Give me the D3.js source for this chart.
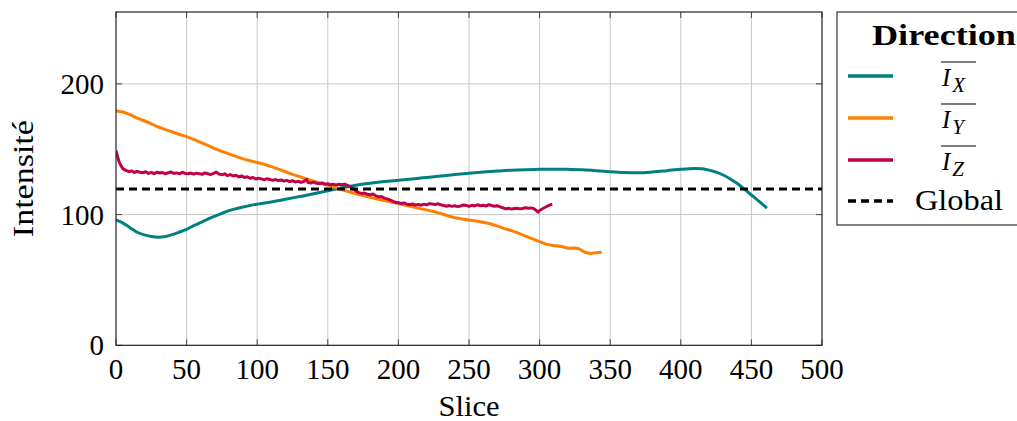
<!DOCTYPE html>
<html><head><meta charset="utf-8">
<script src="https://cdn.jsdelivr.net/npm/d3@7"></script>
<style>
html,body{margin:0;padding:0;background:#fff;}
</style></head>
<body><svg id="chart" width="1017" height="421"></svg>
<script>
const xTicks = [0,50,100,150,200,250,300,350,400,450,500];
const yTicks = [0,100,200];
const globalValue = 119.5;

const sliceX = [0,5,10,15,20,25,30,35,40,45,50,55,60,65,70,75,80,85,90,95,100,110,120,130,140,150,160,170,180,190,200,210,220,230,240,250,260,270,280,290,300,310,320,330,340,350,360,370,380,390,400,410,415,420,425,430,435,440,445,450,455,461];
const valX = [95.9,93.5,90,86.5,84.5,83.3,82.7,83.3,84.8,86.7,88.7,91.5,94,96.5,98.8,101,103,104.5,105.8,107,108,109.7,111.7,113.8,115.9,118.3,120.6,122.5,124,125.3,126.3,127.3,128.4,129.5,130.6,131.6,132.5,133.3,134,134.4,134.6,134.7,134.6,134.4,133.6,132.8,132.2,132,132.6,133.6,134.7,135.3,135,134,132.5,130.3,127.3,123.8,119.5,115,110.5,105];

const sliceY = [0,5,10,15,20,25,30,35,40,45,50,55,60,65,70,75,80,85,90,95,100,105,110,115,120,125,130,135,140,145,150,155,160,165,170,175,180,185,190,195,200,205,210,215,220,225,230,235,240,245,250,255,260,265,270,275,280,285,290,295,300,305,310,315,320,325,328,332,336,340,344];
const valY = [179.3,178.5,176.5,173.8,171.8,169.5,167,165,163.2,161.3,159.6,157.5,155.3,153,150.5,148.4,146.5,144.5,142.6,141.2,139.8,138.5,136.7,134.8,132.8,130.8,129,127.2,125.5,124,122.5,120.8,119,117.5,115.8,114.6,113.2,111.9,110.8,109.7,108.5,107.2,106,104.7,103.6,102.4,100.8,99.1,97.6,96.6,95.8,95.1,94.2,93,91.3,89.3,87.8,85.8,83.6,81.4,79.3,77.2,76.3,75.8,74.3,74.4,73.8,71.2,70.2,70.9,71.2];

const sliceZ = [0,1,2,3,4,5,7,9,11,13,15,17,19,21,23,25,27,29,31,33,35,37,39,41,43,45,47,49,51,53,55,57,59,61,63,65,67,69,71,73,75,77,79,81,83,85,87,89,91,93,95,97,99,101,103,105,107,109,111,113,115,117,119,121,123,125,127,129,131,133,135,136,138,140,142,144,146,148,150,152,154,156,158,160,162,164,166,168,170,172,174,176,178,180,182,184,186,188,190,192,194,196,198,200,202,204,206,208,210,212,214,216,218,220,222,224,226,228,230,232,234,236,238,240,242,244,246,248,250,252,254,256,258,260,262,264,266,268,270,272,274,276,278,280,282,284,286,288,290,292,294,296,298,299,300,302,304,306,308,309];
const valZ = [148.9,145,141,138.5,136.5,135,133.8,132.8,133.5,132.2,133,132.4,132,132.8,131.5,132.3,131.3,132.4,131.8,132.2,131.2,132,132.6,131.5,131.9,131.2,132.4,131.5,131.2,131.8,130.9,131.7,131.2,130.8,131.9,131.3,130.6,131.5,132.5,131,130.4,131.2,129.8,130.6,129.5,130.1,128.8,129.6,128.4,128.9,127.8,128.4,127.2,127.9,127.3,126.6,127.4,126.9,126.2,126.8,126.1,126.5,125.6,126.2,125.3,125.9,125,125.4,124.6,125.3,127,124.5,124.2,124.8,123.9,123.6,124.2,123.3,123.6,122.8,123.3,122.6,123.2,122.8,123.3,122.4,121.2,119.5,118,116.8,116.2,116.5,115.6,115.2,115.7,114.4,113.5,113.9,112.6,112,111.3,110.2,109.4,109.1,108.5,108.9,108,107.6,108.1,107.3,107.8,107.2,108,107.4,108.4,108.1,107.6,108.3,107.5,107,106.4,106.9,106.3,106.7,106.1,106.5,107.4,107,106.3,107.1,106.6,107.5,106.8,107.2,106.5,107.6,107,106.4,106.8,105.9,105.2,104.4,104.8,104.2,104.6,104.9,104.4,104.7,105.3,104.8,105.1,104.5,102.8,101.8,103.2,104.5,105.6,106.8,107.6,107.9];

const seriesNames = ["X","Y","Z"];
const seriesColors = ["#008080","#ff8000","#c1004a"];
const FONT = "'Liberation Serif', 'DejaVu Serif', serif";

const svg = d3.select("#chart").style("font-family", FONT);
const L = 116, R = 822, T = 12, B = 345.3;
const x = d3.scaleLinear().domain([0,500]).range([L,R]);
const y = d3.scaleLinear().domain([0,255]).range([B,T]);

// grid
const g = svg.append("g");
g.selectAll(".gx").data(xTicks.slice(1,-1)).join("line")
  .attr("x1",d=>x(d)).attr("x2",d=>x(d)).attr("y1",T).attr("y2",B)
  .attr("stroke","#c8c8c8").attr("stroke-width",1);
g.selectAll(".gy").data(yTicks.slice(1)).join("line")
  .attr("x1",L).attr("x2",R).attr("y1",d=>y(d)).attr("y2",d=>y(d))
  .attr("stroke","#c8c8c8").attr("stroke-width",1);

// ticks inside
const tl = 6;
g.selectAll(".tb").data(xTicks).join("line")
  .attr("x1",d=>x(d)).attr("x2",d=>x(d)).attr("y1",B).attr("y2",B-tl)
  .attr("stroke","#444").attr("stroke-width",1);
g.selectAll(".tt").data(xTicks).join("line")
  .attr("x1",d=>x(d)).attr("x2",d=>x(d)).attr("y1",T).attr("y2",T+tl)
  .attr("stroke","#444").attr("stroke-width",1);
g.selectAll(".tlft").data(yTicks).join("line")
  .attr("x1",L).attr("x2",L+tl).attr("y1",d=>y(d)).attr("y2",d=>y(d))
  .attr("stroke","#444").attr("stroke-width",1);
g.selectAll(".tr").data(yTicks).join("line")
  .attr("x1",R).attr("x2",R-tl).attr("y1",d=>y(d)).attr("y2",d=>y(d))
  .attr("stroke","#444").attr("stroke-width",1);

// clip
svg.append("clipPath").attr("id","clip").append("rect")
  .attr("x",L).attr("y",T).attr("width",R-L).attr("height",B-T);
const plot = svg.append("g").attr("clip-path","url(#clip)");

const line = d3.line().x(d=>x(d[0])).y(d=>y(d[1]));
const sets = [
  d3.zip(sliceX,valX),
  d3.zip(sliceY,valY),
  d3.zip(sliceZ,valZ)
];
const curves = [d3.curveMonotoneX, d3.curveLinear, d3.curveLinear];
sets.forEach((s,i)=>{
  plot.append("path").datum(s)
    .attr("d", line.curve(curves[i]))
    .attr("fill","none").attr("stroke",seriesColors[i])
    .attr("stroke-width",3).attr("stroke-linejoin","round");
});
plot.append("line").attr("x1",L).attr("x2",R)
  .attr("y1",y(globalValue)).attr("y2",y(globalValue))
  .attr("stroke","#000").attr("stroke-width",3).attr("stroke-dasharray","8,5");

// frame
svg.append("rect").attr("x",L).attr("y",T).attr("width",R-L).attr("height",B-T)
  .attr("fill","none").attr("stroke","#222").attr("stroke-width",1.2);

// tick labels
svg.selectAll(".xl").data(xTicks).join("text")
  .attr("x",d=>x(d)).attr("y",379).attr("text-anchor","middle")
  .attr("font-size",29).text(d=>d);
svg.selectAll(".yl").data(yTicks).join("text")
  .attr("x",104).attr("y",d=>y(d)+10).attr("text-anchor","end")
  .attr("font-size",29).text(d=>d);

svg.append("text").attr("x",(L+R)/2).attr("y",416).attr("text-anchor","middle")
  .attr("font-size",29).attr("textLength",61).attr("lengthAdjust","spacingAndGlyphs").text("Slice");
svg.append("text").attr("transform",`translate(33,${(T+B)/2}) rotate(-90)`)
  .attr("text-anchor","middle").attr("font-size",29)
  .attr("textLength",117).attr("lengthAdjust","spacingAndGlyphs").text("Intensité");

// legend
const lg = svg.append("g");
lg.append("rect").attr("x",837).attr("y",12).attr("width",190).attr("height",213)
  .attr("fill","#fff").attr("stroke","#333").attr("stroke-width",1.2);
lg.append("text").attr("x",872).attr("y",45)
  .attr("font-size",30).attr("font-weight","bold")
  .attr("textLength",144).attr("lengthAdjust","spacingAndGlyphs").text("Direction");
const rowY = [76,118,160];
seriesNames.forEach((n,i)=>{
  lg.append("line").attr("x1",848).attr("x2",893).attr("y1",rowY[i]).attr("y2",rowY[i])
    .attr("stroke",seriesColors[i]).attr("stroke-width",3.5);
  const t = lg.append("text").attr("x",942).attr("y",rowY[i]+10).attr("font-size",25);
  t.append("tspan").attr("font-style","italic").text("I");
  t.append("tspan").attr("font-style","italic").attr("font-size",21).attr("dy",6).attr("dx",2).text(n);
  lg.append("line").attr("x1",941).attr("x2",976).attr("y1",rowY[i]-14).attr("y2",rowY[i]-14)
    .attr("stroke","#000").attr("stroke-width",1.2);
});
lg.append("line").attr("x1",848).attr("x2",893).attr("y1",201).attr("y2",201)
  .attr("stroke","#000").attr("stroke-width",3.5).attr("stroke-dasharray","8,5");
lg.append("text").attr("x",915).attr("y",210).attr("font-size",29)
  .attr("textLength",88).attr("lengthAdjust","spacingAndGlyphs").text("Global");
</script></body></html>
